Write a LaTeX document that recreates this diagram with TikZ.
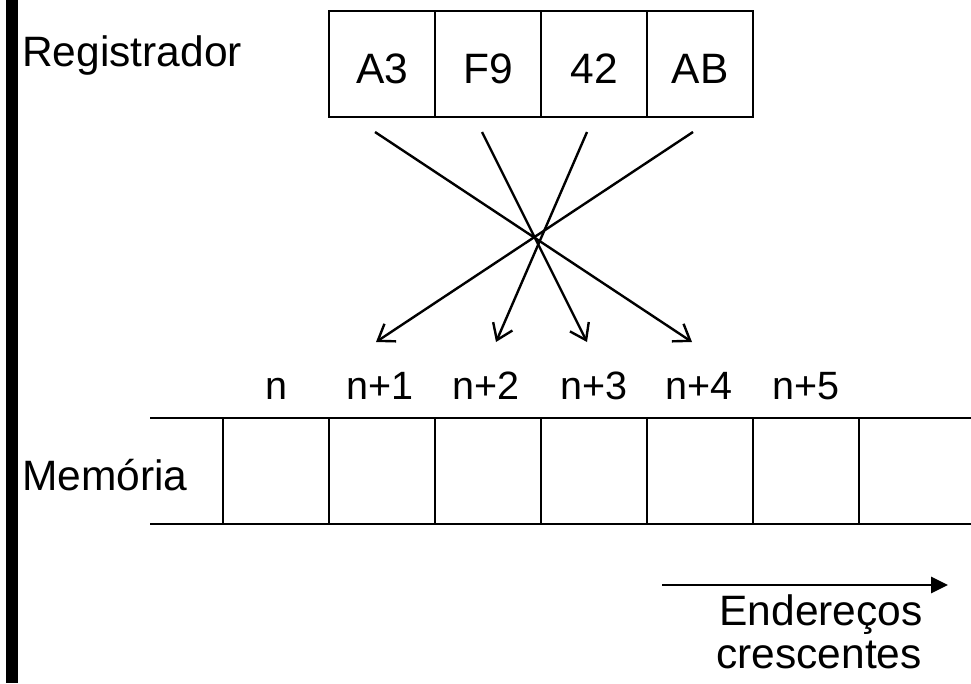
\documentclass[tikz,border=0pt]{standalone}
\usepackage{fontspec}
\setmainfont{Liberation Sans}
\usetikzlibrary{arrows.meta}
\begin{document}
\begin{tikzpicture}[x=1pt,y=-1pt,
  txt/.style={font=\fontsize{42.5}{50}\selectfont, inner sep=0pt},
  addr/.style={font=\fontsize{39.5}{47}\selectfont, inner sep=0pt, anchor=base},
  regcell/.style={draw, line width=2.7pt, minimum width=106pt, minimum height=106pt, inner sep=0pt},
  memcell/.style={draw, line width=1.8pt, minimum width=106pt, minimum height=106pt, inner sep=0pt},
  rail/.style={line width=2.8pt},
  xarrow/.style={line width=2.4pt, -{Straight Barb[length=15pt,width=21pt]}},
  dirarrow/.style={line width=2.8pt, -{Triangle[length=17pt,width=16pt]}}
]
\useasboundingbox (0,0) rectangle (971,683);
% left bar
\fill (6,0) rectangle (18,683);

% register
\node[txt, anchor=base west] (reglabel) at (22,66) {Registrador};
\node[regcell] (r1) at (382,64) {};
\node[regcell] (r2) at (488,64) {};
\node[regcell] (r3) at (594,64) {};
\node[regcell] (r4) at (700,64) {};
\node[txt, anchor=base] (t1) at ([yshift=-19pt]r1.center) {A3};
\node[txt, anchor=base] (t2) at ([yshift=-19pt]r2.center) {F9};
\node[txt, anchor=base] (t3) at ([yshift=-19pt]r3.center) {42};
\node[txt, anchor=base] (t4) at ([yshift=-19pt]r4.center) {AB};

% memory
\node[memcell] (m1) at (276,471) {};
\node[memcell] (m2) at (382,471) {};
\node[memcell] (m3) at (488,471) {};
\node[memcell] (m4) at (594,471) {};
\node[memcell] (m5) at (700,471) {};
\node[memcell] (m6) at (806,471) {};
\coordinate (tl) at (150,418);
\coordinate (tr) at (971,418);
\coordinate (bl) at (150,524);
\coordinate (br) at (971,524);
\draw[rail] (tl) -- (tr);
\draw[rail] (bl) -- (br);
\node[txt, anchor=base west] (memlabel) at (22,490) {Memória};

\node[addr] (a1) at (276,399) {n};
\node[addr] (a2) at (380,399) {n+1};
\node[addr] (a3) at (486,399) {n+2};
\node[addr] (a4) at (594,399) {n+3};
\node[addr] (a5) at (699,399) {n+4};
\node[addr] (a6) at (806,399) {n+5};

% crossing arrows
\coordinate (s1) at (375,132);
\coordinate (s2) at (482,132);
\coordinate (s3) at (587,132);
\coordinate (s4) at (693,132);
\coordinate (e2) at (376,342);
\coordinate (e3) at (496,342);
\coordinate (e4) at (587,342);
\coordinate (e5) at (692,342);
\draw[xarrow] (s1) -- (e5);
\draw[xarrow] (s2) -- (e4);
\draw[xarrow] (s3) -- (e3);
\draw[xarrow] (s4) -- (e2);

% direction arrow
\coordinate (d0) at (662,585);
\coordinate (d1) at (948,585);
\draw[dirarrow] (d0) -- (d1);
\node[txt, anchor=base] (end1) at (821,625) {Endereços};
\node[txt, anchor=base] (end2) at (819,668) {crescentes};
\end{tikzpicture}
\end{document}
